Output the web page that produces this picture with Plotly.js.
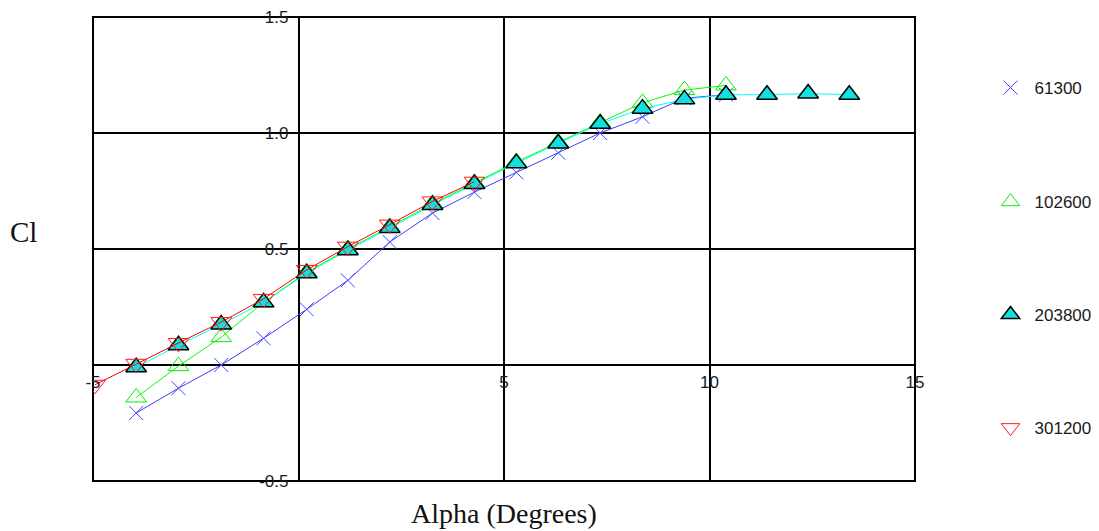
<!DOCTYPE html>
<html><head><meta charset="utf-8">
<script src="https://cdn.plot.ly/plotly-3.0.1.min.js"></script>
<style>html,body{margin:0;padding:0;background:#fff}#chart{width:1099px;height:531px}</style>
</head><body><div id="chart"></div>
<script>
// ---- data ----
const alpha61300  = [-3.95,-2.92,-1.88,-0.85,0.2,1.2,2.22,3.26,4.28,5.3,6.32,7.34,8.37,9.39,10.4];
const cl61300     = [-0.207,-0.10,0.0,0.115,0.24,0.365,0.53,0.655,0.745,0.83,0.915,1.0,1.07,1.15,1.165];
const alpha102600 = [-3.95,-2.92,-1.88,-0.85,0.2,1.2,2.22,3.26,4.28,5.3,6.32,7.34,8.37,9.39,10.4];
const cl102600    = [-0.14,-0.005,0.12,0.27,0.40,0.50,0.595,0.695,0.785,0.875,0.96,1.045,1.13,1.185,1.205];
const alpha203800 = [-3.95,-2.92,-1.88,-0.85,0.2,1.2,2.22,3.26,4.28,5.3,6.32,7.34,8.37,9.39,10.4,11.4,12.4,13.4];
const cl203800    = [-0.01,0.085,0.175,0.27,0.395,0.495,0.59,0.69,0.78,0.87,0.955,1.04,1.105,1.145,1.165,1.165,1.17,1.165];
const alpha301200 = [-4.95,-3.95,-2.92,-1.88,-0.85,0.2,1.2,2.22,3.26,4.28];
const cl301200    = [-0.085,0.005,0.095,0.185,0.285,0.41,0.51,0.605,0.705,0.79];
const seriesNames = ['61300','102600','203800','301200'];

const xRange = [-5, 15];
const yRange = [-0.5, 1.5];
const xTickVals = [-5, 0, 5, 10, 15];
const xTickText = ['-5', '', '5', '10', '15'];
const yTickVals = [-0.5, 0, 0.5, 1.0, 1.5];
const yTickText = ['-0.5', '', '0.5', '1.0', '1.5'];
const xTitle = 'Alpha (Degrees)';
const yTitle = 'Cl';

// ---- styles ----
const tickFont = {family: 'Liberation Sans, Arial, sans-serif', size: 17, color: '#1a1a1a'};
const series = [
  {x: alpha61300,  y: cl61300,  line: '#3c3cff', marker: {symbol: 'x-thin-open', size: 14, color: '#4646ff', line: {color: '#4646ff', width: 1}}},
  {x: alpha102600, y: cl102600, line: '#00ff00', marker: {symbol: 'triangle-up-open', size: 18, color: '#00ee00', line: {color: '#00ee00', width: 1}}},
  {x: alpha203800, y: cl203800, line: '#00ffff', marker: {symbol: 'triangle-up', size: 18, color: '#12e0e0', line: {color: '#000', width: 1.5}}},
  {x: alpha301200, y: cl301200, line: '#ff0000', marker: {symbol: 'triangle-down-open', size: 18, color: '#ff1a1a', line: {color: '#ff1a1a', width: 1}}}
];
const legendY = [0.847, 0.601, 0.358, 0.114];
const legendIds = ['legend', 'legend2', 'legend3', 'legend4'];

const traces = [];
series.forEach((s, i) => {
  traces.push({x: s.x, y: s.y, type: 'scatter', mode: 'lines', line: {color: s.line, width: 1}, showlegend: false, hoverinfo: 'skip'});
  traces.push({x: s.x, y: s.y, type: 'scatter', mode: 'markers', name: seriesNames[i], marker: s.marker, legend: legendIds[i], showlegend: true});
});

const layout = {
  width: 1099, height: 531,
  margin: {l: 93, r: 184, t: 17, b: 50, autoexpand: false},
  paper_bgcolor: '#fff', plot_bgcolor: '#fff',
  xaxis: {
    range: xRange, tickvals: xTickVals, ticktext: xTickText,
    showgrid: true, gridcolor: '#000', gridwidth: 2, zeroline: false, showline: false, ticks: '',
    anchor: 'free', position: (0 - yRange[0]) / (yRange[1] - yRange[0]),
    tickfont: tickFont, ticklabelstandoff: 5, fixedrange: true, automargin: false
  },
  yaxis: {
    range: yRange, tickvals: yTickVals, ticktext: yTickText,
    showgrid: true, gridcolor: '#000', gridwidth: 2, zeroline: false, showline: false, ticks: '',
    anchor: 'free', position: (0 - xRange[0]) / (xRange[1] - xRange[0]),
    tickfont: tickFont, ticklabelstandoff: 10, fixedrange: true, automargin: false
  },
  shapes: [{type: 'rect', xref: 'paper', yref: 'paper', x0: 0, x1: 1, y0: 0, y1: 1, line: {color: '#000', width: 2}, layer: 'below'}],
  annotations: [
    {text: xTitle, xref: 'paper', yref: 'paper', x: 0.5, y: -0.069, xanchor: 'center', yanchor: 'middle', showarrow: false,
     font: {family: 'Liberation Serif, Times New Roman, serif', size: 28, color: '#111'}},
    {text: yTitle, xref: 'paper', yref: 'paper', x: -0.085, y: 0.537, xanchor: 'center', yanchor: 'middle', showarrow: false,
     font: {family: 'Liberation Serif, Times New Roman, serif', size: 29, color: '#111'}}
  ],
  showlegend: true
};
legendIds.forEach((id, i) => {
  layout[id] = {x: 1.087, y: legendY[i], xanchor: 'left', yanchor: 'middle', bgcolor: 'rgba(0,0,0,0)', borderwidth: 0,
    itemwidth: 38,
    font: {family: 'Liberation Sans, Arial, sans-serif', size: 17, color: '#1a1a1a'}};
});

Plotly.newPlot('chart', traces, layout, {staticPlot: true, displayModeBar: false});
</script>
</body></html>
